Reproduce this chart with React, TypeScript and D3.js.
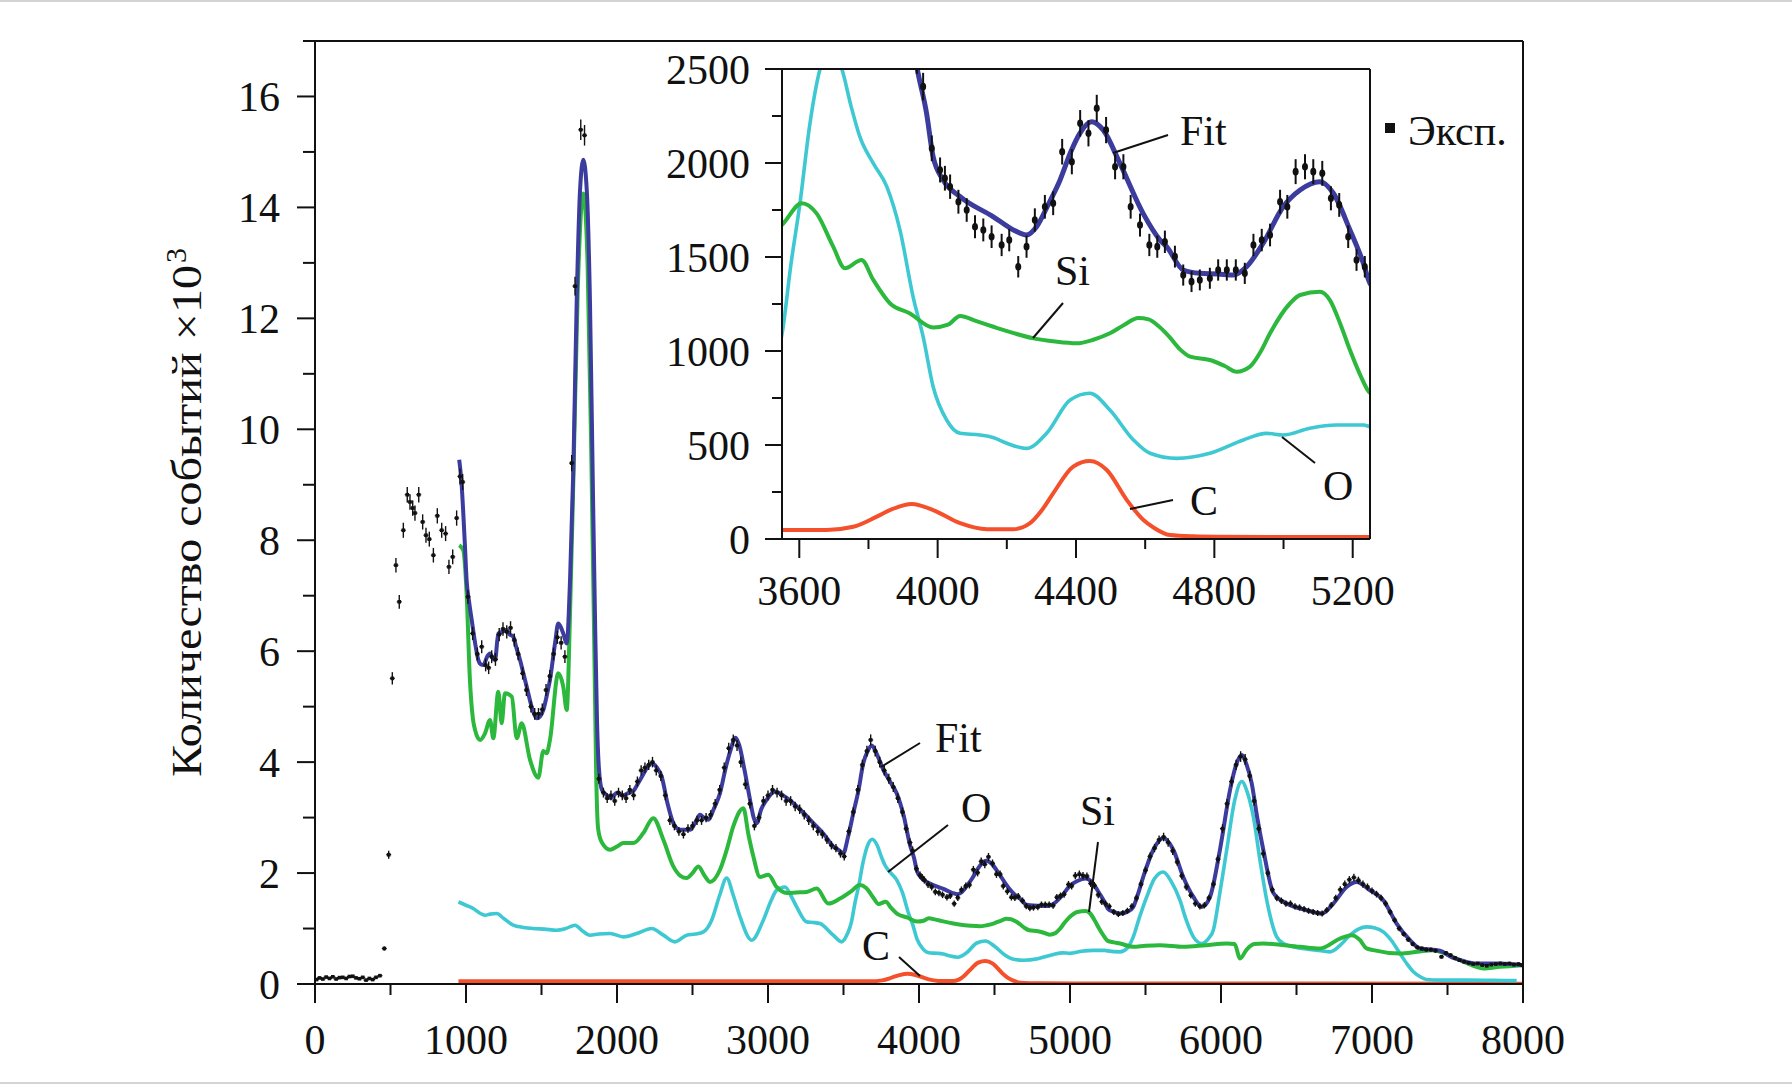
import React from "react";
import * as d3 from "d3";

// ---------------- DATA (energy, counts) ----------------
const FIT_DATA: [number, number][] = [
  [955, 9450], [970, 9050], [982, 8490], [993, 7900], [1004, 7280], [1020, 6900], [1038, 6560], [1060, 6150],
  [1082, 5840], [1100, 5760], [1115, 5750], [1140, 5900], [1159, 5960], [1175, 5880], [1192, 5840], [1214, 6320],
  [1240, 6350], [1269, 6380], [1290, 6300], [1313, 6260], [1335, 6050], [1358, 5840], [1380, 5600], [1402, 5360],
  [1440, 4950], [1468, 4790], [1490, 4820], [1512, 4940], [1535, 5200], [1556, 5480], [1590, 6150], [1611, 6500],
  [1630, 6420], [1644, 6320], [1667, 6140], [1689, 7280], [1711, 9300], [1733, 12300], [1755, 14300], [1777, 14860],
  [1800, 14300], [1821, 12300], [1840, 9000], [1855, 6500], [1868, 4700], [1880, 3900], [1900, 3500], [1935, 3400],
  [1960, 3350], [2000, 3450], [2040, 3400], [2080, 3450], [2108, 3480], [2140, 3620], [2174, 3780], [2200, 3900],
  [2230, 3980], [2265, 3900], [2296, 3740], [2335, 3250], [2373, 2900], [2400, 2800], [2428, 2780], [2483, 2780],
  [2520, 2920], [2550, 3050], [2575, 3000], [2605, 2960], [2640, 3150], [2682, 3440], [2720, 3900], [2750, 4200],
  [2785, 4440], [2810, 4300], [2845, 3850], [2881, 3320], [2905, 3000], [2925, 2900], [2955, 3150], [2991, 3320],
  [3046, 3470], [3100, 3400], [3168, 3260], [3230, 3100], [3300, 2900], [3370, 2700], [3432, 2480], [3475, 2400],
  [3499, 2360], [3530, 2650], [3565, 3080], [3600, 3500], [3631, 3980], [3660, 4200], [3687, 4300], [3720, 4150],
  [3764, 3860], [3808, 3650], [3852, 3440], [3900, 3020], [3939, 2520], [3968, 2264], [3987, 2033], [4016, 1910],
  [4065, 1821], [4161, 1714], [4219, 1644], [4257, 1617], [4286, 1661], [4320, 1780], [4354, 1910], [4385, 2060],
  [4411, 2158], [4445, 2220], [4479, 2175], [4527, 1998], [4594, 1732], [4643, 1590], [4662, 1555], [4710, 1431],
  [4758, 1413], [4810, 1410], [4855, 1404], [4893, 1448], [4941, 1573], [4999, 1767], [5048, 1856], [5105, 1900],
  [5144, 1839], [5192, 1644], [5231, 1466], [5250, 1360], [5290, 1300], [5331, 1270], [5380, 1300], [5419, 1390],
  [5450, 1620], [5485, 1930], [5552, 2420], [5618, 2630], [5684, 2420], [5750, 1930], [5817, 1570], [5872, 1390],
  [5927, 1570], [5993, 2420], [6060, 3500], [6100, 3950], [6137, 4130], [6170, 3950], [6203, 3620], [6240, 3000],
  [6280, 2420], [6347, 1640], [6435, 1450], [6568, 1330], [6667, 1270], [6744, 1450], [6832, 1750], [6898, 1840],
  [6987, 1690], [7075, 1510], [7163, 1090], [7252, 790], [7318, 640], [7450, 600], [7530, 480], [7600, 420],
  [7693, 370], [7848, 370], [7920, 360], [7995, 340],
];

const SI_DATA: [number, number][] = [
  [955, 7910], [982, 7820], [1004, 7040], [1026, 5480], [1045, 4800], [1060, 4580], [1093, 4400], [1126, 4520],
  [1159, 4760], [1181, 4430], [1214, 5270], [1236, 4700], [1258, 5240], [1303, 5180], [1336, 4430], [1369, 4700],
  [1424, 4040], [1479, 3720], [1512, 4200], [1534, 4160], [1556, 4400], [1611, 5600], [1644, 5360], [1667, 4940],
  [1689, 6680], [1711, 9090], [1740, 12500], [1777, 14250], [1805, 13000], [1830, 9500], [1850, 6000], [1862, 3800],
  [1875, 2800], [1900, 2550], [1954, 2420], [2000, 2480], [2042, 2540], [2108, 2540], [2174, 2720], [2240, 2990],
  [2307, 2600], [2373, 2120], [2420, 1950], [2461, 1910], [2500, 2000], [2539, 2120], [2580, 1950], [2616, 1840],
  [2682, 2060], [2730, 2450], [2770, 2840], [2837, 3170], [2870, 2700], [2903, 2300], [2947, 1930], [3002, 1970],
  [3057, 1750], [3124, 1640], [3190, 1650], [3256, 1660], [3323, 1720], [3400, 1450], [3477, 1540], [3554, 1679],
  [3607, 1786], [3650, 1732], [3698, 1555], [3732, 1440], [3780, 1484], [3814, 1378], [3862, 1254], [3920, 1200],
  [3987, 1125], [4030, 1140], [4065, 1186], [4110, 1160], [4161, 1129], [4220, 1095], [4277, 1067], [4340, 1050],
  [4402, 1041], [4450, 1060], [4498, 1094], [4540, 1140], [4580, 1175], [4610, 1168], [4640, 1130], [4670, 1075],
  [4700, 1010], [4730, 970], [4787, 952], [4830, 920], [4864, 890], [4903, 917], [4935, 1000], [4961, 1094],
  [5019, 1254], [5048, 1298], [5105, 1315], [5134, 1271], [5165, 1140], [5192, 1005], [5220, 880], [5250, 777],
  [5290, 750], [5331, 730], [5419, 670], [5500, 690], [5596, 700], [5750, 670], [5900, 700], [6038, 730],
  [6090, 720], [6126, 460], [6170, 620], [6220, 720], [6280, 730], [6523, 670], [6656, 640], [6788, 820],
  [6865, 880], [6921, 790], [6960, 650], [7009, 610], [7185, 550], [7300, 580], [7406, 610], [7500, 530],
  [7583, 430], [7660, 340], [7737, 280], [7848, 310], [7995, 340],
];

const O_DATA: [number, number][] = [
  [950, 1480], [1000, 1420], [1048, 1360], [1090, 1280], [1126, 1240], [1160, 1260], [1203, 1270], [1250, 1180],
  [1313, 1060], [1380, 1020], [1446, 1000], [1520, 990], [1600, 970], [1660, 1000], [1722, 1060], [1770, 960],
  [1821, 880], [1880, 900], [1954, 910], [2042, 850], [2130, 910], [2230, 1000], [2307, 880], [2384, 760],
  [2461, 880], [2520, 900], [2572, 940], [2627, 1150], [2680, 1600], [2726, 1910], [2770, 1600], [2815, 1210],
  [2892, 790], [2969, 1150], [3020, 1500], [3057, 1690], [3113, 1750], [3150, 1600], [3190, 1390], [3256, 1120],
  [3300, 1110], [3344, 1090], [3432, 880], [3488, 760], [3525, 900], [3552, 1112], [3575, 1450], [3602, 1786],
  [3630, 2200], [3660, 2500], [3691, 2610], [3723, 2500], [3750, 2300], [3775, 2140], [3814, 1998], [3853, 1874],
  [3891, 1644], [3930, 1280], [3958, 1076], [3987, 810], [4026, 633], [4065, 562], [4122, 553], [4160, 540],
  [4200, 509], [4257, 482], [4315, 562], [4383, 739], [4440, 775], [4498, 686], [4566, 527], [4614, 456],
  [4691, 429], [4787, 456], [4884, 527], [4951, 562], [4999, 553], [5076, 589], [5153, 606], [5231, 606],
  [5250, 597], [5331, 580], [5380, 650], [5419, 850], [5460, 1200], [5508, 1570], [5560, 1900], [5618, 2020],
  [5670, 1850], [5728, 1510], [5770, 1150], [5817, 850], [5872, 730], [5920, 830], [5949, 970], [5990, 1600],
  [6038, 2420], [6090, 3300], [6137, 3650], [6175, 3450], [6214, 3020], [6260, 2200], [6303, 1510], [6369, 850],
  [6420, 720], [6479, 670], [6634, 610], [6722, 580], [6790, 700], [6854, 880], [6910, 990], [6964, 1030],
  [7020, 1010], [7075, 940], [7130, 780], [7185, 550], [7230, 370], [7274, 220], [7320, 130], [7362, 80],
  [7450, 70], [7627, 70], [7800, 65], [7958, 60],
];

const C_DATA: [number, number][] = [
  [950, 50], [1500, 50], [2500, 50], [3552, 48], [3679, 48], [3756, 65], [3824, 119], [3870, 160], [3925, 186],
  [3987, 154], [4065, 84], [4142, 52], [4219, 52], [4267, 84], [4300, 150], [4334, 243], [4392, 385], [4440, 415],
  [4489, 367], [4547, 207], [4595, 101], [4625, 60], [4672, 21], [4740, 14], [4807, 12], [5250, 10], [6500, 8],
  [8000, 6],
];

const EXP_DATA: [number, number][] = [
  [10, 80], [30, 110], [52, 90], [74, 125], [96, 100], [118, 130], [140, 90], [162, 115], [184, 120], [206, 100],
  [228, 135], [250, 140], [272, 110], [294, 95], [316, 120], [338, 70], [360, 100], [382, 80], [404, 120], [430, 150],
  [459, 640], [488, 2330], [512, 5510], [536, 7550], [558, 6890], [585, 8180], [611, 8820], [629, 8690], [647, 8580],
  [662, 8490], [687, 8820], [713, 8330], [735, 8090], [757, 8020], [784, 7730], [810, 8440], [839, 8180], [865, 8120],
  [887, 7520], [912, 7700], [938, 8400], [960, 9150], [978, 9050],
  [1013, 6980], [1044, 6320], [1075, 5950], [1104, 6080], [1130, 5750], [1150, 5700], [1170, 5900], [1195, 5850],
  [1220, 6300], [1245, 6400], [1270, 6350], [1295, 6420], [1320, 6200], [1345, 5950], [1375, 5600], [1400, 5300],
  [1430, 5000], [1455, 4870], [1480, 4870], [1505, 4950], [1530, 5300], [1555, 5550], [1580, 5950], [1605, 6250],
  [1630, 6150], [1655, 5900], [1700, 9390], [1722, 12580], [1760, 15400], [1785, 15300],
  [1880, 3700], [1910, 3450], [1935, 3350], [1960, 3400], [1985, 3300], [2010, 3450], [2035, 3400], [2060, 3350],
  [2085, 3500], [2110, 3400], [2135, 3650], [2160, 3850], [2185, 3900], [2210, 3950], [2235, 4000], [2260, 3850],
  [2290, 3750], [2320, 3400], [2350, 2950], [2380, 2850], [2410, 2750], [2440, 2700], [2470, 2800], [2500, 2850],
  [2530, 2950], [2560, 2950], [2590, 3000], [2620, 3050], [2650, 3250], [2680, 3500], [2710, 3900], [2740, 4250],
  [2770, 4400], [2795, 4300], [2820, 4000], [2850, 3600], [2880, 3250], [2910, 2850], [2940, 3000], [2970, 3300],
  [3000, 3400], [3030, 3500], [3060, 3450], [3090, 3400], [3120, 3300], [3150, 3300], [3180, 3200], [3210, 3150],
  [3240, 3050], [3270, 2950], [3300, 2850], [3330, 2750], [3360, 2700], [3390, 2600], [3420, 2500], [3450, 2450],
  [3480, 2350], [3505, 2300], [3535, 2750], [3565, 3100], [3595, 3500], [3625, 3950], [3655, 4200], [3680, 4400],
  [3710, 4200], [3740, 4000], [3770, 3850], [3800, 3700], [3830, 3550], [3860, 3350], [3890, 3100], [3915, 2800],
  [3940, 2550],
  [3958, 2406], [3983, 2078], [4007, 1963], [4021, 1919], [4036, 1874], [4060, 1794], [4084, 1750], [4108, 1661],
  [4132, 1644], [4156, 1608], [4185, 1564], [4207, 1590], [4233, 1448], [4257, 1555], [4281, 1697], [4310, 1767],
  [4334, 1786], [4360, 2060], [4388, 2007], [4412, 2211], [4436, 2158], [4460, 2291], [4487, 2175], [4513, 1980],
  [4537, 1980], [4558, 1767], [4585, 1670], [4612, 1564], [4635, 1555], [4657, 1581], [4686, 1502], [4710, 1404],
  [4734, 1369], [4758, 1378], [4787, 1387], [4811, 1431], [4836, 1431], [4862, 1431], [4888, 1413], [4913, 1564],
  [4937, 1590], [4961, 1617], [4990, 1794], [5011, 1767], [5035, 1954], [5062, 1980], [5086, 1954], [5112, 1945],
  [5137, 1812], [5161, 1777], [5187, 1608], [5211, 1484], [5235, 1448],
  [5260, 1400], [5290, 1300], [5320, 1260], [5350, 1280], [5380, 1320], [5410, 1400], [5440, 1550], [5470, 1800],
  [5500, 2050], [5530, 2300], [5560, 2450], [5590, 2600], [5620, 2650], [5650, 2550], [5680, 2400], [5710, 2200],
  [5740, 1950], [5770, 1750], [5800, 1600], [5830, 1450], [5860, 1400], [5890, 1420], [5920, 1550], [5950, 1800],
  [5980, 2250], [6010, 2800], [6040, 3250], [6070, 3650], [6100, 3950], [6130, 4100], [6160, 4050], [6190, 3750],
  [6220, 3300], [6250, 2800], [6280, 2350], [6310, 2000], [6340, 1700], [6370, 1550], [6400, 1500], [6430, 1450],
  [6460, 1450], [6490, 1400], [6520, 1380], [6550, 1350], [6580, 1320], [6610, 1300], [6640, 1280], [6670, 1270],
  [6700, 1330], [6730, 1420], [6760, 1550], [6790, 1700], [6820, 1800], [6850, 1880], [6880, 1920], [6910, 1870],
  [6940, 1800], [6970, 1750], [7000, 1680], [7030, 1620], [7060, 1550], [7090, 1450], [7120, 1300], [7150, 1150],
  [7180, 1000], [7210, 900], [7240, 800], [7270, 720], [7300, 660], [7330, 640], [7360, 620], [7390, 620],
  [7420, 600], [7460, 490], [7490, 560], [7520, 520], [7550, 470], [7580, 430], [7610, 400], [7640, 380],
  [7670, 360], [7700, 370], [7730, 340], [7760, 330], [7790, 350], [7820, 360], [7850, 370], [7880, 360],
  [7910, 370], [7940, 350], [7970, 360], [7995, 340],
];

const MAIN_X_MAJOR = [0, 1000, 2000, 3000, 4000, 5000, 6000, 7000, 8000];
const MAIN_X_MINOR = [500, 1500, 2500, 3500, 4500, 5500, 6500, 7500];
const MAIN_Y_MAJOR = [0, 2000, 4000, 6000, 8000, 10000, 12000, 14000, 16000];
const MAIN_Y_MINOR = [1000, 3000, 5000, 7000, 9000, 11000, 13000, 15000, 17000];
const INSET_X_MAJOR = [3600, 4000, 4400, 4800, 5200];
const INSET_X_MINOR = [3800, 4200, 4600, 5000];
const INSET_Y_MAJOR = [0, 500, 1000, 1500, 2000, 2500];
const INSET_Y_MINOR = [250, 750, 1250, 1750, 2250];

const Y_LABEL = "Количество событий ×10";
const LEGEND_LABEL = "Эксп.";

// ---------------- STYLE ----------------
const FONT = "'Liberation Serif', 'DejaVu Serif', serif";
const COL_FIT = "#3c3c9e";
const COL_SI = "#2cb83c";
const COL_O = "#3ec8d2";
const COL_C = "#f4502c";
const ERR_SCALE = 1.5;

export default function App() {
  const mx = d3.scaleLinear().domain([0, 8000]).range([315, 1523]);
  const my = d3.scaleLinear().domain([0, 17000]).range([984, 41]);
  const ix = d3.scaleLinear().domain([3550, 5250]).range([782, 1370]);
  const iy = d3.scaleLinear().domain([0, 2500]).range([539, 69]);

  const mLine = d3
    .line<[number, number]>()
    .x((d) => mx(d[0]))
    .y((d) => my(d[1]))
    .curve(d3.curveMonotoneX);
  const iLine = d3
    .line<[number, number]>()
    .x((d) => ix(d[0]))
    .y((d) => iy(d[1]))
    .curve(d3.curveMonotoneX);

  const insetPts = EXP_DATA.filter((d) => d[0] >= 3550 && d[0] <= 5250);

  const fs = 42;

  return (
    <svg
      width={1792}
      height={1084}
      style={{ position: "absolute", left: 0, top: 0, background: "#fff" }}
      fontFamily={FONT}
    >
      <rect x={0} y={0} width={1792} height={1084} fill="#fff" />
      <line x1={0} x2={1792} y1={1} y2={1} stroke="#d4d4d4" strokeWidth={2} />
      <line x1={0} x2={1792} y1={1083} y2={1083} stroke="#d4d4d4" strokeWidth={2} />

      <defs>
        <clipPath id="mainClip">
          <rect x={315} y={41} width={1208} height={943} />
        </clipPath>
        <clipPath id="insetClip">
          <rect x={782} y={69} width={588} height={470} />
        </clipPath>
      </defs>

      {/* ---------- MAIN PLOT ---------- */}
      <g clipPath="url(#mainClip)">
        <path d={mLine(C_DATA) || ""} fill="none" stroke={COL_C} strokeWidth={4} />
        <path d={mLine(O_DATA) || ""} fill="none" stroke={COL_O} strokeWidth={3.6} />
        <path d={mLine(SI_DATA) || ""} fill="none" stroke={COL_SI} strokeWidth={4} />
        <path d={mLine(FIT_DATA) || ""} fill="none" stroke={COL_FIT} strokeWidth={4} />
        {EXP_DATA.map((d, i) => {
          const e = ERR_SCALE * Math.sqrt(d[1]);
          const px = mx(d[0]);
          const py = my(d[1]);
          return (
            <g key={i}>
              <line x1={px} x2={px} y1={my(d[1] + e)} y2={my(Math.max(0, d[1] - e))} stroke="#111" strokeWidth={1.4} />
              <line x1={px - 2.5} x2={px + 2.5} y1={py} y2={py} stroke="#111" strokeWidth={1.2} />
              <rect x={px - 1.8} y={py - 1.8} width={3.6} height={3.6} fill="#111" />
            </g>
          );
        })}
      </g>

      {/* main axes */}
      <g stroke="#111" strokeWidth={2}>
        <line x1={315} x2={315} y1={41} y2={984} />
        <line x1={303} x2={1523} y1={41} y2={41} />
        <line x1={1523} x2={1523} y1={41} y2={984} />
        <line x1={297} x2={1523} y1={984} y2={984} />
        {MAIN_Y_MAJOR.map((t) => (
          <line key={"ym" + t} x1={297} x2={315} y1={my(t)} y2={my(t)} />
        ))}
        {MAIN_Y_MINOR.map((t) => (
          <line key={"yn" + t} x1={303} x2={315} y1={my(t)} y2={my(t)} />
        ))}
        {MAIN_X_MAJOR.map((t) => (
          <line key={"xm" + t} x1={mx(t)} x2={mx(t)} y1={984} y2={1003} />
        ))}
        {MAIN_X_MINOR.map((t) => (
          <line key={"xn" + t} x1={mx(t)} x2={mx(t)} y1={984} y2={995} />
        ))}
      </g>
      <g fontSize={fs} fill="#111">
        {MAIN_Y_MAJOR.map((t) => (
          <text key={"yl" + t} x={280} y={my(t) + 15} textAnchor="end">
            {t / 1000}
          </text>
        ))}
        {MAIN_X_MAJOR.map((t) => (
          <text key={"xl" + t} x={mx(t)} y={1054} textAnchor="middle">
            {t}
          </text>
        ))}
      </g>
      <text
        transform="translate(201,777) rotate(-90)"
        fontSize={43}
        fill="#111"
        textLength={512}
        lengthAdjust="spacingAndGlyphs"
      >
        {Y_LABEL}
      </text>
      <text transform="translate(201,777) rotate(-90)" x={514} y={-15} fontSize={30} fill="#111">
        3
      </text>

      {/* main annotations */}
      <g stroke="#111" strokeWidth={2}>
        <line x1={920} y1={743} x2={881} y2={767} />
        <line x1={948} y1={825} x2={888} y2={872} />
        <line x1={1098} y1={842} x2={1089} y2={912} />
        <line x1={899} y1={957} x2={920} y2={976} />
      </g>
      <g fontSize={fs} fill="#111">
        <text x={935} y={752}>Fit</text>
        <text x={961} y={822}>O</text>
        <text x={1080} y={825}>Si</text>
        <text x={862} y={960}>C</text>
      </g>

      {/* legend */}
      <rect x={1385} y={123} width={10} height={10} fill="#111" />
      <text x={1408} y={145} fontSize={fs} fill="#111">
        {LEGEND_LABEL}
      </text>

      {/* ---------- INSET ---------- */}
      <rect x={782} y={69} width={588} height={470} fill="#fff" />
      <g clipPath="url(#insetClip)">
        <path d={iLine(C_DATA) || ""} fill="none" stroke={COL_C} strokeWidth={4} />
        <path d={iLine(O_DATA) || ""} fill="none" stroke={COL_O} strokeWidth={3.6} />
        <path d={iLine(SI_DATA) || ""} fill="none" stroke={COL_SI} strokeWidth={4} />
        <path d={iLine(FIT_DATA) || ""} fill="none" stroke={COL_FIT} strokeWidth={5} />
        {insetPts.map((d, i) => {
          const e = ERR_SCALE * Math.sqrt(d[1]);
          return (
            <g key={i}>
              <line x1={ix(d[0])} x2={ix(d[0])} y1={iy(d[1] + e)} y2={iy(d[1] - e)} stroke="#111" strokeWidth={2} />
              <ellipse cx={ix(d[0])} cy={iy(d[1])} rx={3} ry={3.8} fill="#111" />
            </g>
          );
        })}
      </g>
      <g stroke="#111" strokeWidth={2}>
        <line x1={782} x2={782} y1={69} y2={539} />
        <line x1={765} x2={1370} y1={69} y2={69} />
        <line x1={1370} x2={1370} y1={69} y2={539} />
        <line x1={765} x2={1370} y1={539} y2={539} />
        {INSET_Y_MAJOR.map((t) => (
          <line key={"iym" + t} x1={765} x2={782} y1={iy(t)} y2={iy(t)} />
        ))}
        {INSET_Y_MINOR.map((t) => (
          <line key={"iyn" + t} x1={772} x2={782} y1={iy(t)} y2={iy(t)} />
        ))}
        {INSET_X_MAJOR.map((t) => (
          <line key={"ixm" + t} x1={ix(t)} x2={ix(t)} y1={539} y2={558} />
        ))}
        {INSET_X_MINOR.map((t) => (
          <line key={"ixn" + t} x1={ix(t)} x2={ix(t)} y1={539} y2={549} />
        ))}
      </g>
      <g fontSize={fs} fill="#111">
        {INSET_Y_MAJOR.map((t) => (
          <text key={"iyl" + t} x={750} y={iy(t) + 15} textAnchor="end">
            {t}
          </text>
        ))}
        {INSET_X_MAJOR.map((t) => (
          <text key={"ixl" + t} x={ix(t)} y={605} textAnchor="middle">
            {t}
          </text>
        ))}
      </g>
      <g stroke="#111" strokeWidth={2}>
        <line x1={1168} y1={135} x2={1113} y2={153} />
        <line x1={1063} y1={303} x2={1033} y2={338} />
        <line x1={1315} y1={463} x2={1282} y2={437} />
        <line x1={1173} y1={500} x2={1130} y2={509} />
      </g>
      <g fontSize={fs} fill="#111">
        <text x={1180} y={145}>Fit</text>
        <text x={1055} y={285}>Si</text>
        <text x={1323} y={500}>O</text>
        <text x={1190} y={515}>C</text>
      </g>
    </svg>
  );
}
